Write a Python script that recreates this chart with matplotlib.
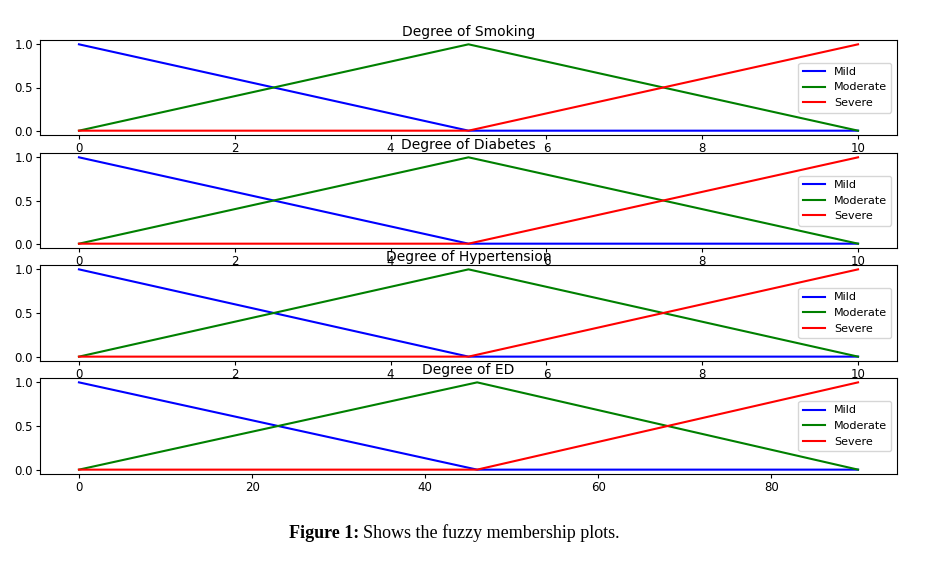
import numpy as np
import matplotlib.pyplot as plt

# universes and triangle breakpoints
x_risk = [0, 5, 10]
x_ed = [0, 46, 90]
mild = [1, 0, 0]
moderate = [0, 1, 0]
severe = [0, 0, 1]

titles = ['Degree of Smoking', 'Degree of Diabetes', 'Degree of Hypertension', 'Degree of ED']
universes = [x_risk, x_risk, x_risk, x_ed]
labels = ['Mild', 'Moderate', 'Severe']

fig = plt.figure(figsize=(9.37, 5.61), dpi=100)
W, H = 937, 561
boxes = [(40, 135), (153, 248), (265, 361), (378, 474)]

for (top, bot), title, xs in zip(boxes, titles, universes):
    ax = fig.add_axes([40 / W, 1 - bot / H, (897 - 40) / W, (bot - top) / H])
    ax.plot(xs, mild, 'b', linewidth=1.5, label=labels[0])
    ax.plot(xs, moderate, 'g', linewidth=1.5, label=labels[1])
    ax.plot(xs, severe, 'r', linewidth=1.5, label=labels[2])
    ax.set_title(title, fontsize=10, pad=3)
    ax.tick_params(labelsize=8.5, length=3, pad=2)
    ax.set_yticks([0, 0.5, 1.0])
    ax.legend(loc='center right', fontsize=8)

t = fig.text(289 / W, 1 - 538 / H, 'Figure 1:', fontsize=13, fontweight='bold',
             family='Liberation Serif')
fig.canvas.draw()
bb = t.get_window_extent()
fig.text(bb.x1 / W + 4 / W, 1 - 538 / H, 'Shows the fuzzy membership plots.', fontsize=13,
         family='Liberation Serif')

fig.savefig('out.png', dpi=100)
